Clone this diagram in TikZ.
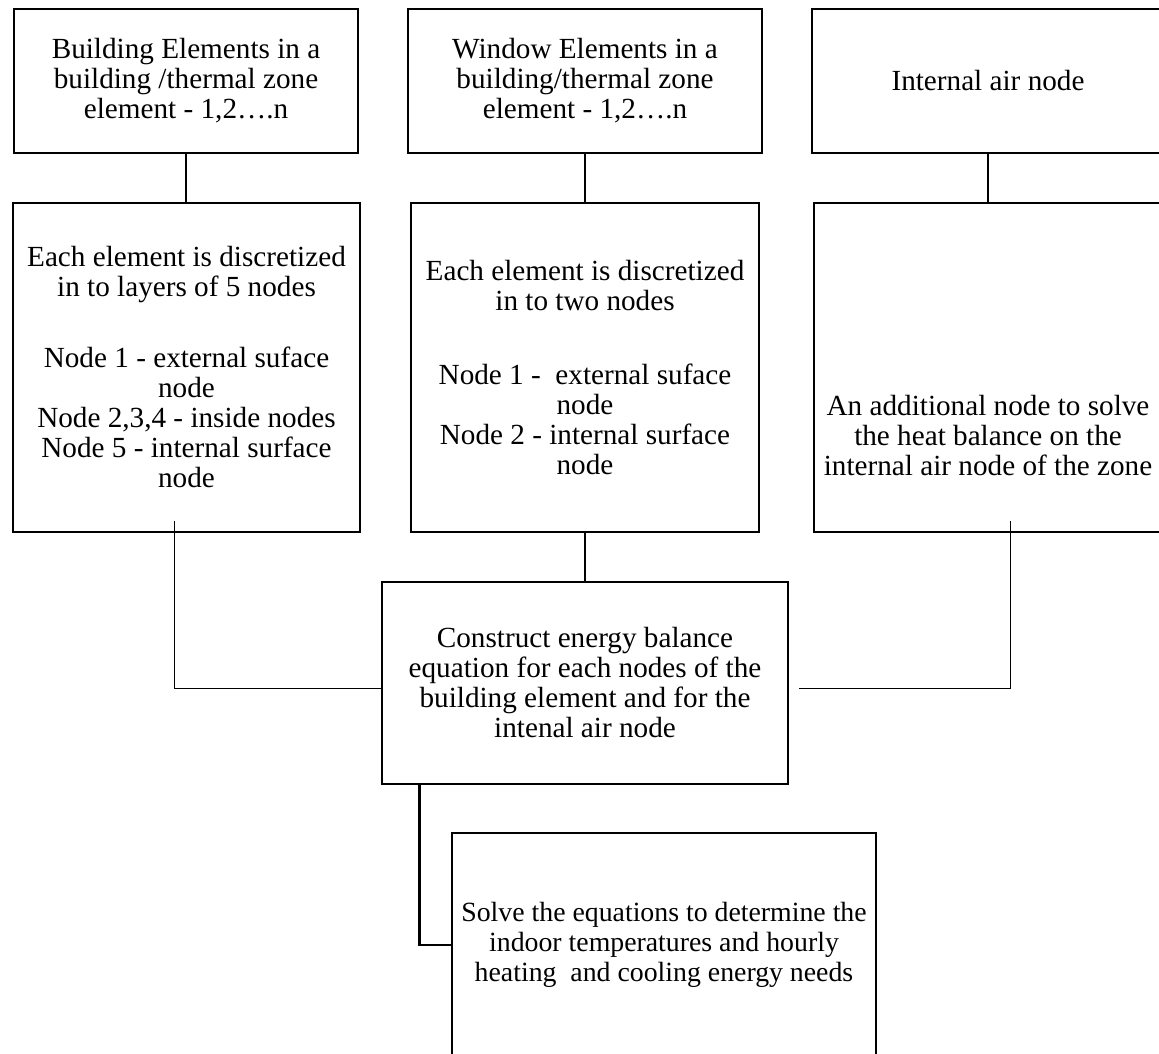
\documentclass[tikz,border=0pt]{standalone}
\usepackage{fontspec}
\setmainfont{Liberation Serif}
\usetikzlibrary{positioning,calc}
\begin{document}
\begin{tikzpicture}[x=0.5pt,y=-0.5pt,
  box/.style={draw,line width=1.3pt,align=center,inner sep=0pt,font=\fontsize{14.6}{15}\selectfont},
  txt/.style={align=center,inner sep=0pt,font=\fontsize{14.6}{15}\selectfont},
  wire/.style={line width=1.3pt},
  thinwire/.style={line width=0.5pt}]
  \clip (0,0) rectangle (1159,1053);
  \node[box,minimum width=172pt,minimum height=72pt] (bldg) at (186,81) {Building Elements in a\\building /thermal zone\\element - 1,2….n};
  \node[box,minimum width=177pt,minimum height=72pt] (win) at (585,81) {Window Elements in a\\building/thermal zone\\element - 1,2….n};
  \node[box,minimum width=176pt,minimum height=72pt] (air) at (988,81) {Internal air node};
  \node[box,minimum width=173.5pt,minimum height=164.5pt] (bldgnodes) at (186.5,367.5) {Each element is discretized\\in to layers of 5 nodes\\[20.5pt]Node 1 - external suface\\node\\Node 2,3,4 - inside nodes\\Node 5 - internal surface\\node};
  \node[box,minimum width=174pt,minimum height=164.5pt] (winnodes) at (585,367.5) {Each element is discretized\\in to two nodes\\[22pt]Node 1 - \ external suface\\node\\Node 2 - internal surface\\node};
  \node[box,minimum width=174pt,minimum height=164.5pt] (airnodes) at (988,367.5) {};
  \node[txt] (airtxt) at (988,436) {An additional node to solve\\the heat balance on the\\internal air node of the zone};
  \node[box,minimum width=203pt,minimum height=101pt] (balance) at (585,683) {Construct energy balance\\equation for each nodes of the\\building element and for the\\intenal air node};
  \node[box,minimum width=212pt,minimum height=112pt,font=\fontsize{13.9}{15}\selectfont] (solve) at (664,945) {Solve the equations to determine the\\indoor temperatures and hourly\\heating \ and cooling energy needs};
  \foreach \a/\b in {bldg/bldgnodes,win/winnodes,air/airnodes}
    \draw[wire] (\a.south) -- (\a.south |- \b.north);
  \draw[wire] (winnodes.south) -- (balance.north);
  \draw[wire] ([xshift=19.5pt]balance.south west) |- (solve.west);
  \coordinate (lft) at (174,521);
  \coordinate (rgt) at (1010,521);
  \draw[thinwire] (lft) |- ([yshift=-2.5pt]balance.west);
  \draw[thinwire] (rgt) |- ([xshift=5pt,yshift=-2.5pt]balance.east);
\end{tikzpicture}
\end{document}
